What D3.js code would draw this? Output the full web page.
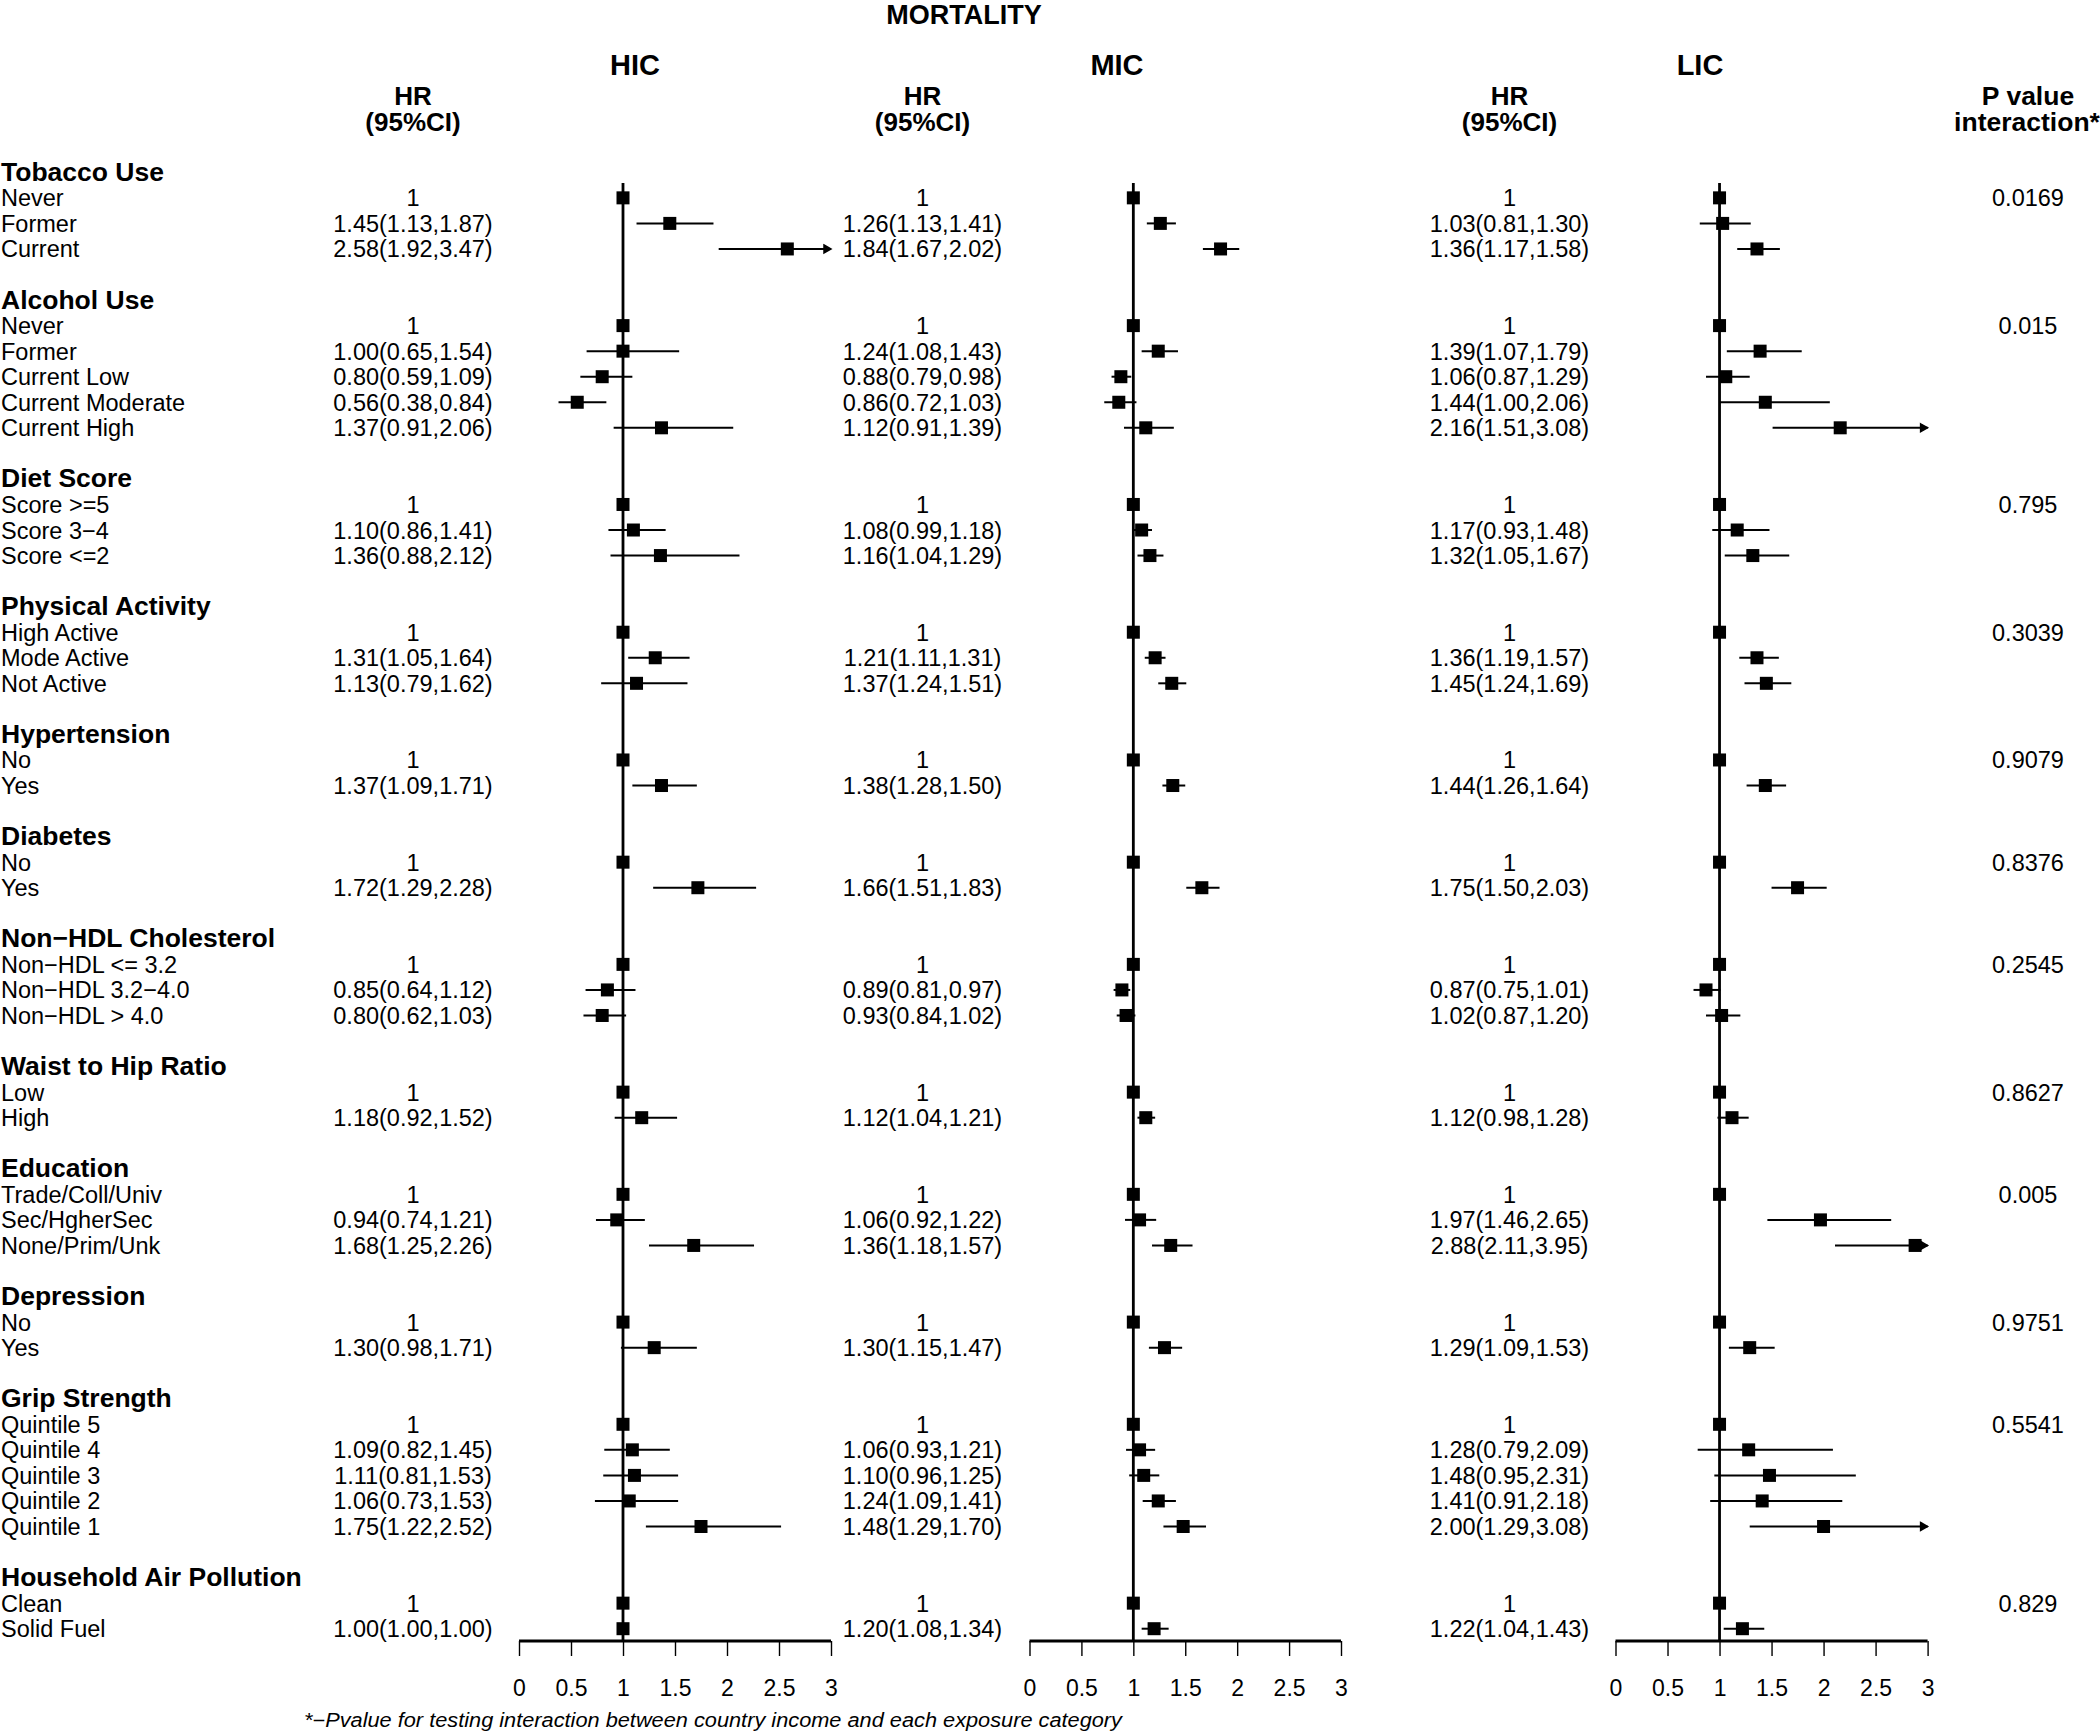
<!DOCTYPE html>
<html>
<head>
<meta charset="utf-8">
<script src="https://cdn.jsdelivr.net/npm/d3@7"></script>
<style>
  body { margin: 0; background: #fff; }
  svg text { font-family: "Liberation Sans", Arial, Helvetica, sans-serif; fill: #000; }
</style>
</head>
<body>
<div id="chart"></div>
<script>
// exposure groups and their category labels
var groups = ["Tobacco Use", "Alcohol Use", "Diet Score", "Physical Activity", "Hypertension", "Diabetes",
              "Non\u2212HDL Cholesterol", "Waist to Hip Ratio", "Education", "Depression", "Grip Strength",
              "Household Air Pollution"];
var categories = [
  ["Never", "Former", "Current"],
  ["Never", "Former", "Current Low", "Current Moderate", "Current High"],
  ["Score >=5", "Score 3\u22124", "Score <=2"],
  ["High Active", "Mode Active", "Not Active"],
  ["No", "Yes"],
  ["No", "Yes"],
  ["Non\u2212HDL <= 3.2", "Non\u2212HDL 3.2\u22124.0", "Non\u2212HDL > 4.0"],
  ["Low", "High"],
  ["Trade/Coll/Univ", "Sec/HgherSec", "None/Prim/Unk"],
  ["No", "Yes"],
  ["Quintile 5", "Quintile 4", "Quintile 3", "Quintile 2", "Quintile 1"],
  ["Clean", "Solid Fuel"]
];
var pValues = ["0.0169", "0.015", "0.795", "0.3039", "0.9079", "0.8376", "0.2545", "0.8627", "0.005", "0.9751", "0.5541", "0.829"];

// null = reference category (printed as "1")
var hicHR = [[null,1.45,2.58],[null,1.00,0.80,0.56,1.37],[null,1.10,1.36],[null,1.31,1.13],[null,1.37],[null,1.72],
             [null,0.85,0.80],[null,1.18],[null,0.94,1.68],[null,1.30],[null,1.09,1.11,1.06,1.75],[null,1.00]];
var hicLo = [[null,1.13,1.92],[null,0.65,0.59,0.38,0.91],[null,0.86,0.88],[null,1.05,0.79],[null,1.09],[null,1.29],
             [null,0.64,0.62],[null,0.92],[null,0.74,1.25],[null,0.98],[null,0.82,0.81,0.73,1.22],[null,1.00]];
var hicHi = [[null,1.87,3.47],[null,1.54,1.09,0.84,2.06],[null,1.41,2.12],[null,1.64,1.62],[null,1.71],[null,2.28],
             [null,1.12,1.03],[null,1.52],[null,1.21,2.26],[null,1.71],[null,1.45,1.53,1.53,2.52],[null,1.00]];

var micHR = [[null,1.26,1.84],[null,1.24,0.88,0.86,1.12],[null,1.08,1.16],[null,1.21,1.37],[null,1.38],[null,1.66],
             [null,0.89,0.93],[null,1.12],[null,1.06,1.36],[null,1.30],[null,1.06,1.10,1.24,1.48],[null,1.20]];
var micLo = [[null,1.13,1.67],[null,1.08,0.79,0.72,0.91],[null,0.99,1.04],[null,1.11,1.24],[null,1.28],[null,1.51],
             [null,0.81,0.84],[null,1.04],[null,0.92,1.18],[null,1.15],[null,0.93,0.96,1.09,1.29],[null,1.08]];
var micHi = [[null,1.41,2.02],[null,1.43,0.98,1.03,1.39],[null,1.18,1.29],[null,1.31,1.51],[null,1.50],[null,1.83],
             [null,0.97,1.02],[null,1.21],[null,1.22,1.57],[null,1.47],[null,1.21,1.25,1.41,1.70],[null,1.34]];

var licHR = [[null,1.03,1.36],[null,1.39,1.06,1.44,2.16],[null,1.17,1.32],[null,1.36,1.45],[null,1.44],[null,1.75],
             [null,0.87,1.02],[null,1.12],[null,1.97,2.88],[null,1.29],[null,1.28,1.48,1.41,2.00],[null,1.22]];
var licLo = [[null,0.81,1.17],[null,1.07,0.87,1.00,1.51],[null,0.93,1.05],[null,1.19,1.24],[null,1.26],[null,1.50],
             [null,0.75,0.87],[null,0.98],[null,1.46,2.11],[null,1.09],[null,0.79,0.95,0.91,1.29],[null,1.04]];
var licHi = [[null,1.30,1.58],[null,1.79,1.29,2.06,3.08],[null,1.48,1.67],[null,1.57,1.69],[null,1.64],[null,2.03],
             [null,1.01,1.20],[null,1.28],[null,2.65,3.95],[null,1.53],[null,2.09,2.31,2.18,3.08],[null,1.43]];

var tickValues = [0, 0.5, 1, 1.5, 2, 2.5, 3];
var tickLabels = ["0", "0.5", "1", "1.5", "2", "2.5", "3"];

var panels = [
  {name: "HIC", hr: hicHR, lo: hicLo, hi: hicHi, range: [519, 831], textX: 413, titleX: 635},
  {name: "MIC", hr: micHR, lo: micLo, hi: micHi, range: [1029.5, 1341], textX: 922.5, titleX: 1117},
  {name: "LIC", hr: licHR, lo: licLo, hi: licHi, range: [1615.5, 1927.6], textX: 1509.5, titleX: 1700}
];

var width = 2100, height = 1735;
var svg = d3.select("#chart").append("svg")
  .attr("width", width)
  .attr("height", height);

// build the row list: header line, category lines, blank line
var rows = [];
groups.forEach(function(g, gi) {
  rows.push({type: "header", label: g, g: gi});
  categories[gi].forEach(function(c, ci) {
    rows.push({type: "row", label: c, g: gi, c: ci});
  });
  if (gi < groups.length - 1) rows.push({type: "blank"});
});

var y = d3.scaleLinear()
  .domain([0, rows.length - 1])
  .range([172.3, 1628.7]);

var axisY = 1641;
var fmt = d3.format(".2f");
var fs = 23.5;

// titles
svg.append("text").attr("x", 964).attr("y", 24).attr("text-anchor", "middle")
  .style("font-weight", "bold").style("font-size", "27px").text("MORTALITY");

panels.forEach(function(p) {
  svg.append("text").attr("x", p.titleX).attr("y", 75).attr("text-anchor", "middle")
    .style("font-weight", "bold").style("font-size", "29px").text(p.name);
  svg.append("text").attr("x", p.textX).attr("y", 104.5).attr("text-anchor", "middle")
    .style("font-weight", "bold").style("font-size", "26px").text("HR");
  svg.append("text").attr("x", p.textX).attr("y", 130.5).attr("text-anchor", "middle")
    .style("font-weight", "bold").style("font-size", "26px").text("(95%CI)");
});
svg.append("text").attr("x", 2028).attr("y", 104.5).attr("text-anchor", "middle")
  .style("font-weight", "bold").style("font-size", "26.5px").text("P value");
svg.append("text").attr("x", 2027).attr("y", 130.5).attr("text-anchor", "middle")
  .style("font-weight", "bold").style("font-size", "26.5px").text("interaction*");

// row labels
rows.forEach(function(r, i) {
  if (r.type === "blank") return;
  svg.append("text")
    .attr("x", 1)
    .attr("y", y(i) + 8.5)
    .style("font-size", r.type === "header" ? "26.5px" : fs + "px")
    .style("font-weight", r.type === "header" ? "bold" : "normal")
    .text(r.label);
});

// p values on first category row of each group
rows.forEach(function(r, i) {
  if (r.type === "row" && r.c === 0) {
    svg.append("text").attr("x", 2028).attr("y", y(i) + 8.5)
      .attr("text-anchor", "middle").style("font-size", fs + "px")
      .text(pValues[r.g]);
  }
});

// forest panels
panels.forEach(function(p) {
  var x = d3.scaleLinear().domain([0, 3]).range(p.range);
  var g = svg.append("g");
  var catRows = rows.map(function(r, i) { return {r: r, i: i}; })
    .filter(function(d) { return d.r.type === "row"; });

  // HR (95%CI) text
  g.selectAll(".hrtext")
    .data(catRows)
    .enter().append("text")
    .attr("x", p.textX)
    .attr("y", function(d) { return y(d.i) + 8.5; })
    .attr("text-anchor", "middle")
    .style("font-size", fs + "px")
    .text(function(d) {
      var hr = p.hr[d.r.g][d.r.c];
      if (hr === null) return "1";
      return fmt(hr) + "(" + fmt(p.lo[d.r.g][d.r.c]) + "," + fmt(p.hi[d.r.g][d.r.c]) + ")";
    });

  // reference line at 1
  g.append("line")
    .attr("x1", x(1)).attr("x2", x(1))
    .attr("y1", 183).attr("y2", axisY)
    .attr("stroke", "#000").attr("stroke-width", 2.8);

  // CI lines
  var ci = catRows.filter(function(d) { return p.hr[d.r.g][d.r.c] !== null; });
  g.selectAll(".ci")
    .data(ci)
    .enter().append("line")
    .attr("x1", function(d) { return x(Math.max(0, p.lo[d.r.g][d.r.c])); })
    .attr("x2", function(d) { return x(Math.min(3, p.hi[d.r.g][d.r.c])); })
    .attr("y1", function(d) { return y(d.i); })
    .attr("y2", function(d) { return y(d.i); })
    .attr("stroke", "#000").attr("stroke-width", 2);

  // arrows where the interval runs past 3
  g.selectAll(".arrow")
    .data(ci.filter(function(d) { return p.hi[d.r.g][d.r.c] > 3; }))
    .enter().append("path")
    .attr("d", function(d) {
      var ax = x(3), ay = y(d.i);
      return "M" + (ax - 7) + "," + (ay - 4) + "L" + ax + "," + ay + "L" + (ax - 7) + "," + (ay + 4) + "Z";
    })
    .attr("fill", "#000").attr("stroke", "#000").attr("stroke-width", 1.5)
    .attr("stroke-linejoin", "miter");

  // boxes
  var bs = 13;
  g.selectAll(".box")
    .data(catRows)
    .enter().append("rect")
    .attr("x", function(d) {
      var hr = p.hr[d.r.g][d.r.c];
      return x(hr === null ? 1 : hr) - bs / 2;
    })
    .attr("y", function(d) { return y(d.i) - bs / 2; })
    .attr("width", bs).attr("height", bs)
    .attr("fill", "#000");

  // x axis
  var axis = g.append("g")
    .attr("transform", "translate(0," + axisY + ")")
    .call(d3.axisBottom(x)
      .tickValues(tickValues)
      .tickFormat(function(d, i) { return tickLabels[i]; })
      .tickSize(15)
      .tickPadding(24));
  axis.select(".domain").attr("stroke", "#000").attr("stroke-width", 3)
    .attr("d", "M" + p.range[0] + ",0H" + p.range[1]);
  axis.selectAll(".tick line").attr("stroke", "#000").attr("stroke-width", 1.4);
  axis.selectAll(".tick text")
    .style("font-size", "23px")
    .style("font-family", "'Liberation Sans', Arial, Helvetica, sans-serif")
    .attr("fill", "#000");
});

// footnote
svg.append("text")
  .attr("x", 304).attr("y", 1727)
  .attr("textLength", 818).attr("lengthAdjust", "spacingAndGlyphs")
  .style("font-style", "italic").style("font-size", "19.5px")
  .text("*\u2212Pvalue for testing interaction between country income  and each exposure category");
</script>
</body>
</html>
